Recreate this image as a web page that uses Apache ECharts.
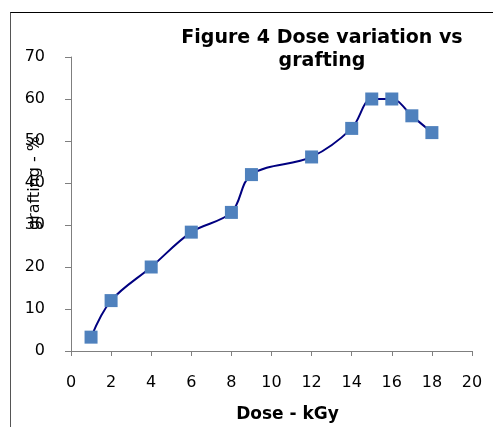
<!DOCTYPE html>
<html>
<head>
<meta charset="utf-8">
<script src="https://cdn.jsdelivr.net/npm/echarts@6/dist/echarts.min.js"></script>
<style>
  html, body { margin: 0; padding: 0; background: #fff; }
  .frame {
    position: absolute;
    left: 10px;
    top: 12px;
    width: 483px;
    height: 415px;
    border-top: 1px solid #000;
    border-left: 1px solid #555;
  }
  #chart { position: absolute; left: 0; top: 0; width: 493px; height: 427px; }
</style>
</head>
<body>
<div class="frame"></div>
<div id="chart"></div>
<script>
// dose (kGy) and grafting (%)
const doses = [1, 2, 4, 6, 8, 9, 12, 14, 15, 16, 17, 18];
const grafting = [3.3, 12, 20, 28.3, 33, 42, 46.2, 53, 60, 60, 56, 52];
const titleLines = ["Figure 4 Dose variation vs", "grafting"];

let chartDom = document.getElementById("chart");
let myChart = echarts.init(chartDom);
let font = "DejaVu Sans";

let option = {
  animation: false,
  textStyle: { fontFamily: font },
  graphic: [
    {
      type: "text",
      x: 322,
      y: 27,
      style: {
        text: titleLines.join("\n"),
        font: "bold 19px " + font,
        fill: "#000",
        align: "center",
        verticalAlign: "top",
        lineHeight: 23,
      },
    },
  ],
  grid: { left: 71, right: 21, top: 57, bottom: 76, outerBoundsMode: "none" },
  xAxis: {
    type: "value",
    min: 0,
    max: 20,
    interval: 2,
    name: "Dose - kGy",
    nameLocation: "middle",
    nameGap: 55,
    nameMoveOverlap: false,
    nameTextStyle: {
      fontFamily: font,
      fontSize: 17,
      fontWeight: "bold",
      color: "#000",
      padding: [0, 0, 0, 32],
    },
    splitLine: { show: false },
    axisLine: { lineStyle: { color: "#7f7f7f", width: 1 } },
    axisTick: { length: 5, lineStyle: { color: "#7f7f7f" } },
    axisLabel: { color: "#000", fontSize: 16, margin: 24 },
  },
  yAxis: {
    type: "value",
    min: 0,
    max: 70,
    interval: 10,
    name: "grafting - %",
    nameLocation: "middle",
    nameGap: 28,
    nameMoveOverlap: false,
    nameTextStyle: {
      fontFamily: font,
      fontSize: 16,
      color: "#000",
      padding: [0, 0, 0, 42],
    },
    splitLine: { show: false },
    axisLine: { show: true, lineStyle: { color: "#7f7f7f", width: 1 } },
    axisTick: { show: true, length: 6, lineStyle: { color: "#7f7f7f" } },
    axisLabel: { color: "#000", fontSize: 16, margin: 26 },
  },
  series: [
    {
      type: "line",
      data: doses.map((d, i) => [d, grafting[i]]),
      smooth: 0.35,
      symbol: "rect",
      symbolSize: 13,
      lineStyle: { color: "#000080", width: 2 },
      itemStyle: { color: "#4f81bd" },
    },
  ],
};
option && myChart.setOption(option);
</script>
</body>
</html>
